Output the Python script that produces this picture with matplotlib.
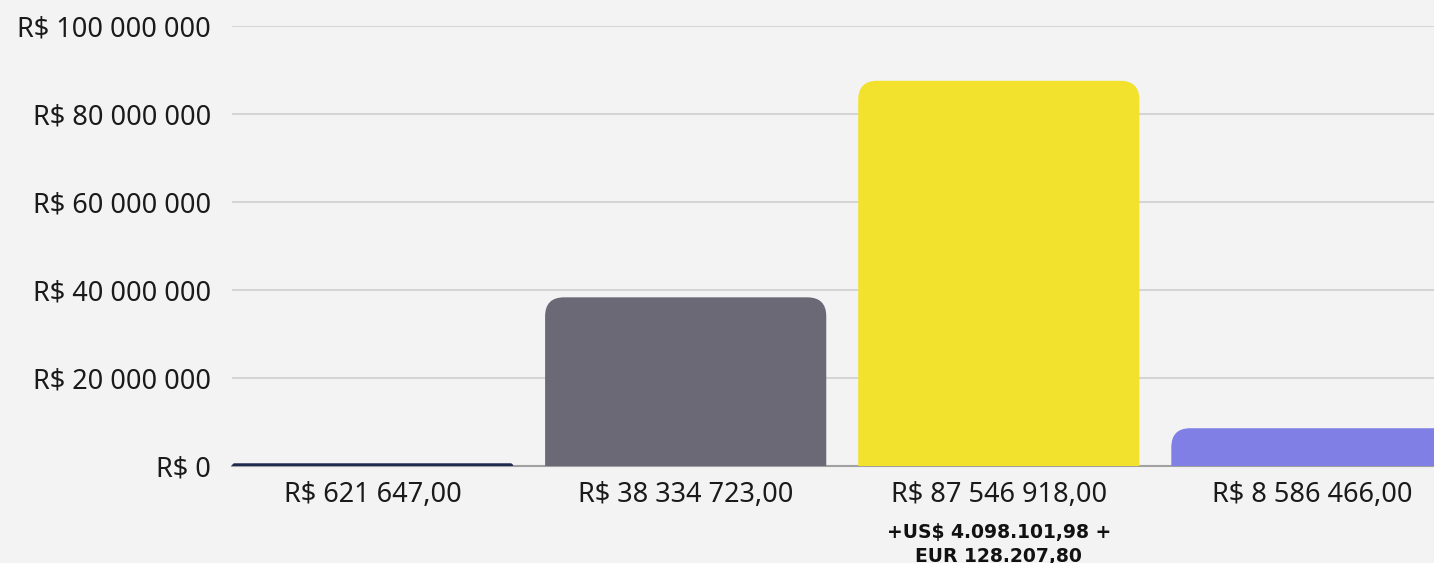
import matplotlib.pyplot as plt
from matplotlib.path import Path
from matplotlib.patches import PathPatch
from matplotlib.ticker import FuncFormatter

# Dados
labels = ['R$ 621 647,00', 'R$ 38 334 723,00', 'R$ 87 546 918,00', 'R$ 8 586 466,00']
values = [621647, 38334723, 87546918, 8586466]
colors = ['#1f2a50', '#6b6975', '#f2e22d', '#7f7fe6']
extra_label = '+US$ 4.098.101,98 +\nEUR 128.207,80'
yticks = [0, 20e6, 40e6, 60e6, 80e6, 100e6]

bg = '#f3f3f3'
plt.rcParams['font.family'] = ['Noto Sans', 'DejaVu Sans']

fig = plt.figure(figsize=(14.34, 5.63), dpi=100, facecolor=bg)
W, H = 1434, 563
ax = fig.add_axes([232 / W, (H - 466) / H, 1 - 232 / W, (466 - 26) / H])
ax.set_facecolor(bg)

width = 0.898
ax.set_xlim(-0.449, 3.39)
ax.set_ylim(0, 100e6)

# barras com cantos superiores arredondados
px_x = 1 / 313.0      # unidades de x por pixel
px_y = 100e6 / 440.0  # unidades de y por pixel
r = 19
bars = ax.bar(range(len(values)), values, width=width, color='none')
for b, c in zip(bars, colors):
    x0, w, h = b.get_x(), b.get_width(), b.get_height()
    ry = min(r * px_y, h)
    rx = r * px_x * (ry / (r * px_y))
    verts = [(x0, 0), (x0, h - ry), (x0, h), (x0 + rx, h),
             (x0 + w - rx, h), (x0 + w, h), (x0 + w, h - ry),
             (x0 + w, 0), (x0, 0)]
    codes = [Path.MOVETO, Path.LINETO, Path.CURVE3, Path.CURVE3,
             Path.LINETO, Path.CURVE3, Path.CURVE3,
             Path.LINETO, Path.CLOSEPOLY]
    ax.add_patch(PathPatch(Path(verts, codes), facecolor=c, edgecolor='none', zorder=3))

# eixos e grade
for s in ['top', 'right', 'left']:
    ax.spines[s].set_visible(False)
ax.spines['bottom'].set_color('#a0a0a0')
ax.spines['bottom'].set_linewidth(1.5)
ax.spines['bottom'].set_zorder(2)

ax.set_yticks(yticks)
ax.yaxis.set_major_formatter(FuncFormatter(
    lambda v, p: 'R$ ' + f'{int(v):,}'.replace(',', ' ')))
ax.grid(axis='y', color='#d0d0d0', linewidth=1.2, zorder=0)
ax.set_axisbelow(True)
ax.tick_params(axis='y', length=0, pad=15, labelsize=19.5, labelcolor='#1a1a1a')

ax.set_xticks(range(len(labels)))
ax.set_xticklabels(labels)
ax.tick_params(axis='x', length=0, pad=11, labelsize=19.5, labelcolor='#1a1a1a')

ax.annotate(extra_label, xy=(2, 0), xycoords='data', xytext=(0, -57),
            textcoords='offset pixels', ha='center', va='top',
            fontsize=13.5, fontweight='bold', color='#111111',
            family=['DejaVu Sans'], linespacing=1.32, annotation_clip=False)

plt.savefig('out.png', dpi=100, facecolor=bg)
plt.close()
